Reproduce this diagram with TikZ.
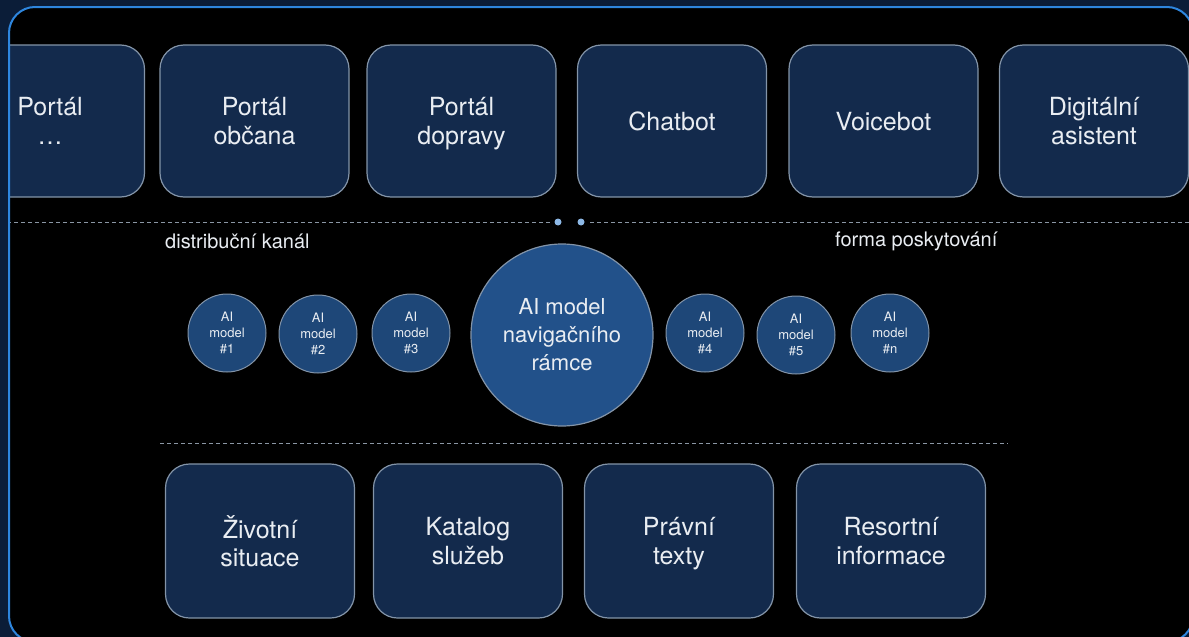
\documentclass[tikz,border=0pt]{standalone}
\usepackage{fontspec}
\setmainfont{TeX Gyre Heros}
\definecolor{pagebg}{HTML}{0B1D38}
\definecolor{framebl}{HTML}{2E86DE}
\definecolor{boxfill}{HTML}{132A4C}
\definecolor{boxline}{HTML}{8394A8}
\definecolor{orbfill}{HTML}{1E4778}
\definecolor{corefill}{HTML}{22518A}
\definecolor{dotblue}{HTML}{8DB8E6}
\definecolor{dashgray}{HTML}{8A96A4}
\definecolor{labeltext}{HTML}{E9EDF2}
\tikzset{
  channelbox/.style={rectangle, rounded corners=24pt, minimum width=189pt,
    minimum height=152pt, fill=boxfill, draw=boxline, line width=1.2pt,
    text=labeltext, align=center, text depth=0pt,
    font=\fontsize{25}{28.5}\selectfont},
  sourcebox/.style={channelbox, minimum height=154pt},
  modelorb/.style={circle, minimum size=78pt, inner sep=0pt, fill=orbfill,
    draw=boxline, line width=1pt, text=labeltext, align=center,
    font=\fontsize{13}{16}\selectfont},
  coreorb/.style={circle, minimum size=182pt, inner sep=0pt, fill=corefill,
    draw=boxline, line width=1.2pt, text=labeltext, align=center,
    font=\fontsize{22}{28}\selectfont},
  layerline/.style={dashgray, line width=0.9pt, dash pattern=on 4pt off 3pt},
  layerlabel/.style={anchor=west, inner sep=0pt, text=labeltext,
    font=\fontsize{20}{22}\selectfont},
  marker/.style={circle, fill=dotblue, inner sep=0pt, minimum size=7pt},
}
\begin{document}
\begin{tikzpicture}[x=1pt,y=-1pt]
  % page background and fixed size
  \fill[pagebg] (0,0) rectangle (1189,637);
  \useasboundingbox (0,0) rectangle (1189,637);

  \begin{scope}
    \clip[rounded corners=26pt] (9,7) rectangle (1193,642);
    \fill[black] (0,0) rectangle (1200,650);

    % distribution channels
    \node[channelbox] (portal)  at (50,121)   {Portál\\…};
    \node[channelbox] (obcan)   at (254.5,121) {Portál\\občana};
    \node[channelbox] (doprava) at (461.5,121) {Portál\\dopravy};
    \node[channelbox] (chat)    at (672,121)  {Chatbot};
    \node[channelbox] (voice)   at (883.5,121) {Voicebot};
    \node[channelbox] (asist)   at (1094,121) {Digitální\\asistent};

    % upper layer border with two markers
    \coordinate (upL) at (0,222);
    \coordinate (upM1) at (550,222);
    \coordinate (upM2) at (590,222);
    \coordinate (upR) at (1200,222);
    \draw[layerline] (upL) -- (upM1);
    \draw[layerline] (upM2) -- (upR);
    \node[marker] (dotA) at (558,222) {};
    \node[marker] (dotB) at (581,222) {};

    \node[layerlabel] (lblkanal) at (165,241) {distribuční kanál};
    \node[layerlabel] (lblforma) at (835,241) {forma poskytování};

    % AI models
    \node[modelorb] (m1) at (227,333) {AI\\model\\\#1};
    \node[modelorb] (m2) at (318,334) {AI\\model\\\#2};
    \node[modelorb] (m3) at (411,333) {AI\\model\\\#3};
    \node[coreorb]  (core) at (562,335) {AI model\\navigačního\\rámce};
    \node[modelorb] (m4) at (705,333) {AI\\model\\\#4};
    \node[modelorb] (m5) at (796,335) {AI\\model\\\#5};
    \node[modelorb] (mn) at (890,333) {AI\\model\\\#n};

    % lower layer border
    \coordinate (loL) at (160,443);
    \coordinate (loR) at (1008,443);
    \draw[layerline] (loL) -- (loR);

    % content sources
    \node[sourcebox] (zivot)   at (260,541) {Životní\\situace};
    \node[sourcebox] (katalog) at (468,541) {Katalog\\služeb};
    \node[sourcebox] (pravni)  at (679,541) {Právní\\texty};
    \node[sourcebox] (resort)  at (891,541) {Resortní\\informace};
  \end{scope}

  % frame outline
  \draw[framebl, line width=2pt, rounded corners=26pt] (9,7) rectangle (1193,642);
\end{tikzpicture}
\end{document}
